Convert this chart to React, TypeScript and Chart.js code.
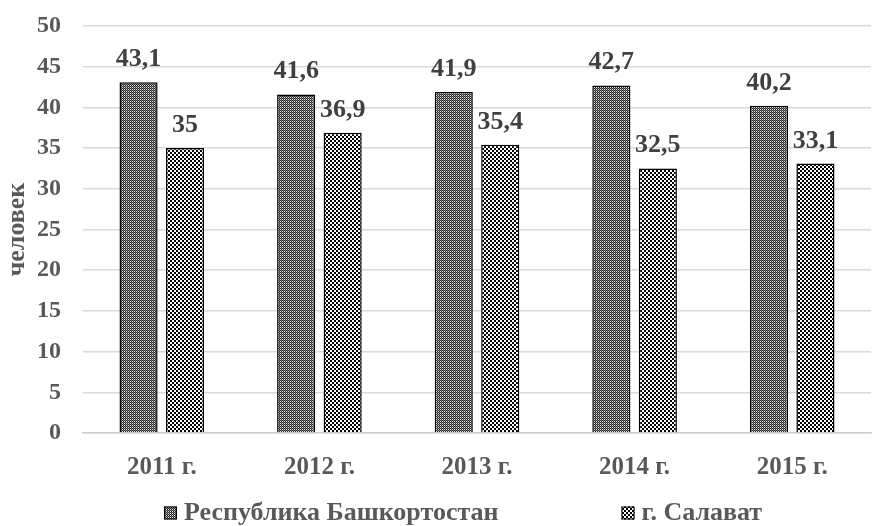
import React, { useEffect, useRef } from 'react';
import { Chart, registerables } from 'chart.js';

Chart.register(...registerables);

const categories = ['2011 г.', '2012 г.', '2013 г.', '2014 г.', '2015 г.'];
const seriesNames = ['Республика Башкортостан', 'г. Салават'];
const bashkortostan = [43.1, 41.6, 41.9, 42.7, 40.2];
const salavat = [35, 36.9, 35.4, 32.5, 33.1];
const yMin = 0;
const yMax = 50;
const yStep = 5;
const yTitle = 'человек';

const FONT = '"Liberation Serif", "Times New Roman", serif';
const TEXT = '#595959';
const LABEL = '#404040';

function makeFinePattern(ctx: CanvasRenderingContext2D): CanvasPattern {
  const c = document.createElement('canvas');
  c.width = 2;
  c.height = 2;
  const g = c.getContext('2d')!;
  g.fillStyle = '#e6e6e6';
  g.fillRect(0, 0, 2, 2);
  g.fillStyle = '#262626';
  g.fillRect(0, 0, 1, 1);
  g.fillRect(1, 1, 1, 1);
  g.fillStyle = '#7a7a7a';
  g.fillRect(1, 0, 1, 1);
  return ctx.createPattern(c, 'repeat')!;
}

function makeCheckerPattern(ctx: CanvasRenderingContext2D): CanvasPattern {
  const c = document.createElement('canvas');
  c.width = 4;
  c.height = 4;
  const g = c.getContext('2d')!;
  g.fillStyle = '#000000';
  g.fillRect(0, 0, 4, 4);
  g.fillStyle = '#ffffff';
  g.fillRect(0, 0, 2, 2);
  g.fillRect(2, 2, 2, 2);
  return ctx.createPattern(c, 'repeat')!;
}

const fmt = (v: number) => String(v).replace('.', ',');

const dataLabelPlugin = {
  id: 'dataLabels',
  afterDatasetsDraw(chart: any) {
    const ctx = chart.ctx as CanvasRenderingContext2D;
    ctx.save();
    ctx.font = `bold 26px ${FONT}`;
    ctx.fillStyle = LABEL;
    ctx.textAlign = 'center';
    ctx.textBaseline = 'alphabetic';
    chart.data.datasets.forEach((ds: any, i: number) => {
      const meta = chart.getDatasetMeta(i);
      meta.data.forEach((el: any, j: number) => {
        ctx.fillText(fmt(ds.data[j]), el.x, el.y - 16);
      });
    });
    ctx.restore();
  },
};

const legendPlugin = {
  id: 'customLegend',
  afterDraw(chart: any) {
    const ctx = chart.ctx as CanvasRenderingContext2D;
    const area = chart.chartArea;
    ctx.save();
    ctx.font = `bold 26px ${FONT}`;
    ctx.textBaseline = 'middle';
    ctx.textAlign = 'left';
    const y = chart.height - 13;
    const box = 13;
    const gap = 123;
    let x = area.left + 81;
    chart.data.datasets.forEach((ds: any, i: number) => {
      ctx.fillStyle = ds.backgroundColor;
      ctx.fillRect(x, y - box / 2, box, box);
      ctx.strokeStyle = '#000';
      ctx.lineWidth = 1;
      ctx.strokeRect(x + 0.5, y - box / 2 + 0.5, box - 1, box - 1);
      ctx.fillStyle = TEXT;
      const tx = x + box + 7;
      ctx.fillText(seriesNames[i], tx, y);
      x = tx + ctx.measureText(seriesNames[i]).width + gap;
    });
    ctx.restore();
  },
};

export default function App() {
  const ref = useRef<HTMLCanvasElement | null>(null);

  useEffect(() => {
    document.body.style.margin = '0';
    const canvas = ref.current!;
    const ctx = canvas.getContext('2d')!;
    const fine = makeFinePattern(ctx);
    const checker = makeCheckerPattern(ctx);

    const chart = new Chart(canvas, {
      type: 'bar',
      data: {
        labels: categories,
        datasets: [
          {
            label: seriesNames[0],
            data: bashkortostan,
            backgroundColor: fine as any,
            borderColor: '#000',
            borderWidth: 1.5,
            categoryPercentage: 0.59,
            barPercentage: 0.82,
          },
          {
            label: seriesNames[1],
            data: salavat,
            backgroundColor: checker as any,
            borderColor: '#000',
            borderWidth: 1.5,
            categoryPercentage: 0.59,
            barPercentage: 0.82,
          },
        ],
      },
      options: {
        animation: false,
        responsive: false,
        devicePixelRatio: 1,
        layout: { padding: { top: 26, right: 2, left: 0, bottom: 33 } },
        plugins: {
          legend: { display: false },
          tooltip: { enabled: false },
        },
        scales: {
          x: {
            grid: { display: false, drawTicks: false },
            border: { display: true, color: '#d0d0d0', width: 1.5 },
            ticks: {
              color: TEXT,
              font: { family: FONT, size: 25, weight: 'bold' },
              padding: 20,
            },
            afterFit(scale: any) {
              scale.height = 60;
            },
          },
          y: {
            min: yMin,
            max: yMax,
            grid: {
              color: '#d9d9d9',
              lineWidth: 1.5,
              drawTicks: true,
              tickLength: 22,
              tickColor: 'rgba(0,0,0,0)',
            },
            border: { display: false },
            ticks: {
              stepSize: yStep,
              color: TEXT,
              font: { family: FONT, size: 24, weight: 'bold' },
              padding: 0,
            },
            title: {
              display: true,
              text: yTitle,
              color: TEXT,
              font: { family: FONT, size: 26, weight: 'bold' },
              padding: { top: 2, bottom: 0 },
            },
            afterFit(scale: any) {
              scale.width = 83;
            },
          },
        },
      },
      plugins: [dataLabelPlugin, legendPlugin],
    });
    return () => chart.destroy();
  }, []);

  return <canvas ref={ref} width={873} height={526} style={{ display: 'block' }} />;
}
